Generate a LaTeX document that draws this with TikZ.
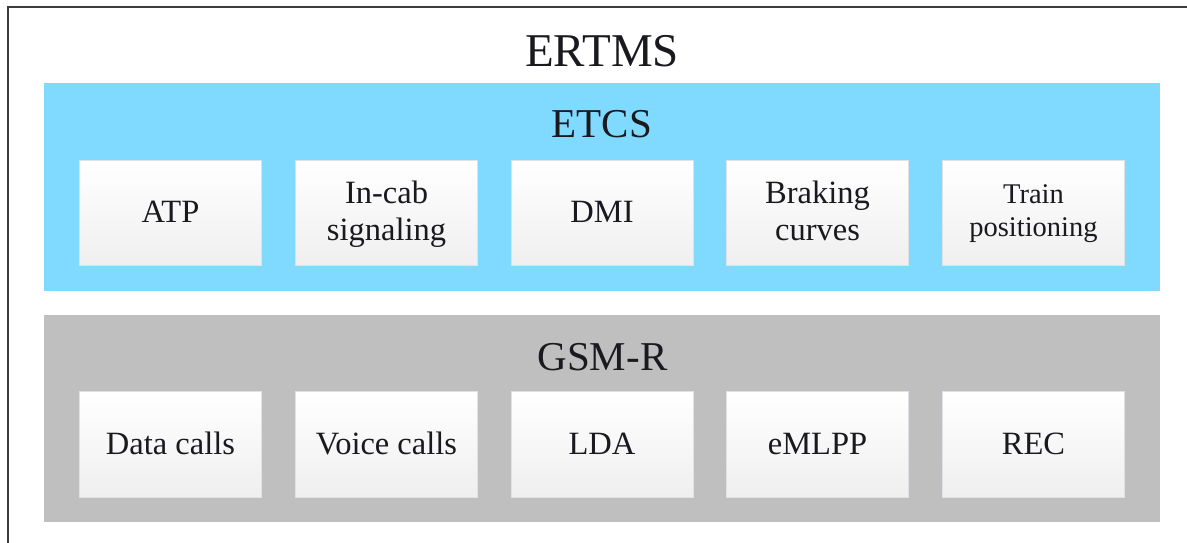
\documentclass[tikz,border=0pt]{standalone}
\usepackage{fontspec}
\setmainfont{Liberation Serif}
\definecolor{etcsblue}{RGB}{128,218,255}
\definecolor{gsmgray}{RGB}{191,191,191}
\definecolor{boxedge}{RGB}{222,226,230}
\definecolor{boxbottom}{RGB}{239,239,239}
\definecolor{inkdark}{RGB}{25,25,30}
\definecolor{framegray}{RGB}{60,60,60}
\begin{document}
\begin{tikzpicture}[x=1pt,y=-1pt,
  frameline/.style={draw=framegray,line width=1.6pt},
  panel/.style={draw=none,inner sep=0pt,minimum width=1116.5pt},
  heading/.style={anchor=base,text=inkdark,inner sep=0pt},
  item/.style={inner sep=0pt,minimum width=182pt,minimum height=105.5pt,
    draw=boxedge,line width=0.8pt,top color=white,bottom color=boxbottom,
    text=inkdark,font=\fontsize{32.5}{37}\selectfont,align=center,
    text height=20pt,text depth=0pt},
  twoline/.style={text height=54.3pt,text depth=0pt},
  smalltwoline/.style={text height=47.7pt,text depth=0pt,
    font=\fontsize{28.5}{33}\selectfont}]
\useasboundingbox (0,0) rectangle (1187,542);
\clip (0,0) rectangle (1187,542);

% outer frame
\coordinate (fbl) at (8,560);
\coordinate (ftl) at (8,7);
\coordinate (ftr) at (1200,7);
\draw[frameline] (fbl) -- (ftl) -- (ftr);

\node[heading,font=\fontsize{47}{52}\selectfont] (ertms) at (602,66.5) {ERTMS};

% ETCS group
\node[panel,fill=etcsblue,minimum height=208pt] (etcs) at (601.75,187) {};
\node[heading,font=\fontsize{41}{46}\selectfont] (etcstitle) at (602,137) {ETCS};
\node[item] (atp) at (170.5,212.85) {ATP};
\node[item,twoline] (incab) at (386.5,212.85) {In-cab\\signaling};
\node[item] (dmi) at (602,212.85) {DMI};
\node[item,twoline] (braking) at (817.5,212.85) {Braking\\curves};
\node[item,smalltwoline] (trainpos) at (1033.5,212.85) {Train\\positioning};

% GSM-R group
\node[panel,fill=gsmgray,minimum height=207pt] (gsmr) at (601.75,418.5) {};
\node[heading,font=\fontsize{41}{46}\selectfont] (gsmrtitle) at (602.5,370) {GSM-R};
\node[item] (data) at (170.5,444.15) {Data calls};
\node[item] (voice) at (386.5,444.15) {Voice calls};
\node[item] (lda) at (602,444.15) {LDA};
\node[item] (emlpp) at (817.5,444.15) {eMLPP};
\node[item] (rec) at (1033.5,444.15) {REC};
\end{tikzpicture}
\end{document}
